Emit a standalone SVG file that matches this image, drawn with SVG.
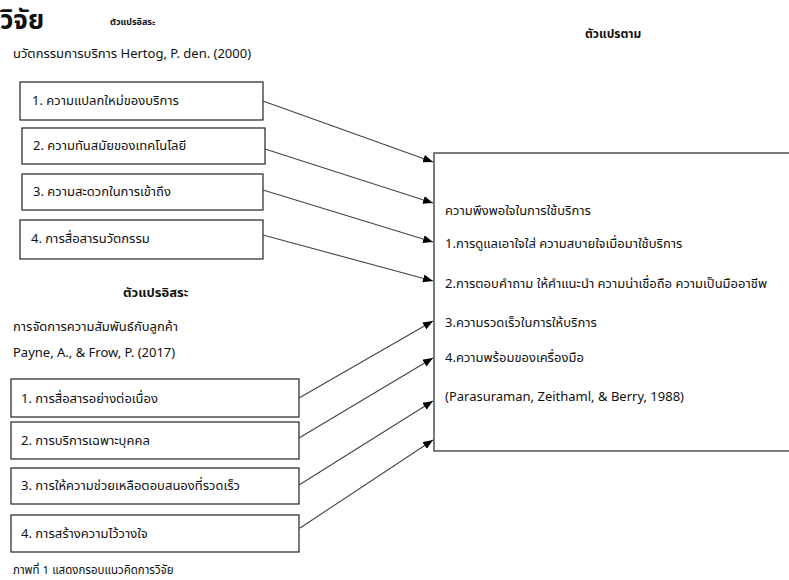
<svg xmlns="http://www.w3.org/2000/svg" width="789" height="580" viewBox="0 0 789 580">
<defs>
<style>
text{font-family:"Tahoma","Leelawadee UI","Noto Sans Thai","Noto Sans","DejaVu Sans",sans-serif;fill:#111;font-size:13px}
.box{fill:#fff;stroke:#222;stroke-width:1.2}
.big{fill:#fff;stroke:#333;stroke-width:1.3}
.conn line{stroke:#444;stroke-width:1.1}
.title{font-size:26px;font-weight:bold}
.hd{font-size:9px;font-weight:bold}
.hd2{font-weight:bold}
.cap{font-size:11.5px}
</style>
<marker id="ah" viewBox="0 0 10 8" refX="10" refY="4" markerWidth="10" markerHeight="8" markerUnits="userSpaceOnUse" orient="auto">
<path d="M0,0 L10,4 L0,8 z" fill="#000"/>
</marker>
</defs>
<rect width="789" height="580" fill="#fff"/>
<text class="title" x="0" y="29">วิจัย</text>
<text class="hd" x="110" y="25">ตัวแปรอิสระ</text>
<text x="13" y="58">นวัตกรรมการบริการ Hertog, P. den. (2000)</text>
<text class="hd2" x="585" y="38" style="font-size:12px">ตัวแปรตาม</text>

<g id="dep">
<rect class="big" x="434" y="153" width="370" height="298"/>
<text x="445" y="215">ความพึงพอใจในการใช้บริการ</text>
<text x="445" y="248">1.การดูแลเอาใจใส่ ความสบายใจเมื่อมาใช้บริการ</text>
<text x="445" y="288">2.การตอบคำถาม ให้คำแนะนำ ความน่าเชื่อถือ ความเป็นมืออาชีพ</text>
<text x="445" y="327">3.ความรวดเร็วในการให้บริการ</text>
<text x="445" y="362">4.ความพร้อมของเครื่องมือ</text>
<text x="445" y="401">(Parasuraman, Zeithaml, &amp; Berry, 1988)</text>
</g>

<g id="a1"><rect class="box" x="20" y="82" width="243" height="38"/><text x="32" y="105">1. ความแปลกใหม่ของบริการ</text></g>
<g id="a2"><rect class="box" x="22" y="128" width="243" height="36"/><text x="33" y="150">2. ความทันสมัยของเทคโนโลยี</text></g>
<g id="a3"><rect class="box" x="22" y="174" width="241" height="36"/><text x="33" y="196">3. ความสะดวกในการเข้าถึง</text></g>
<g id="a4"><rect class="box" x="20" y="220" width="243" height="39"/><text x="31" y="243">4. การสื่อสารนวัตกรรม</text></g>

<text class="hd2" x="123" y="297" style="font-size:13px">ตัวแปรอิสระ</text>
<text x="13" y="331">การจัดการความสัมพันธ์กับลูกค้า</text>
<text x="13" y="357">Payne, A., &amp; Frow, P. (2017)</text>

<g id="b1"><rect class="box" x="11" y="379" width="288" height="38"/><text x="21" y="403">1. การสื่อสารอย่างต่อเนื่อง</text></g>
<g id="b2"><rect class="box" x="11" y="422" width="288" height="37"/><text x="21" y="445">2. การบริการเฉพาะบุคคล</text></g>
<g id="b3"><rect class="box" x="11" y="468" width="288" height="36"/><text x="21" y="490">3. การให้ความช่วยเหลือตอบสนองที่รวดเร็ว</text></g>
<g id="b4"><rect class="box" x="11" y="515" width="288" height="37"/><text x="21" y="538">4. การสร้างความไว้วางใจ</text></g>

<text class="cap" x="13" y="574">ภาพที่ 1 แสดงกรอบแนวคิดการวิจัย</text>

<g class="conn">
<line x1="263" y1="101" x2="433" y2="162" marker-end="url(#ah)"/>
<line x1="265" y1="149" x2="433" y2="203" marker-end="url(#ah)"/>
<line x1="263" y1="190" x2="433" y2="242" marker-end="url(#ah)"/>
<line x1="263" y1="235" x2="433" y2="281" marker-end="url(#ah)"/>
<line x1="299" y1="398" x2="433" y2="321" marker-end="url(#ah)"/>
<line x1="299" y1="438" x2="433" y2="358" marker-end="url(#ah)"/>
<line x1="299" y1="485" x2="433" y2="401" marker-end="url(#ah)"/>
<line x1="300" y1="528" x2="433" y2="440" marker-end="url(#ah)"/>
</g>
</svg>
